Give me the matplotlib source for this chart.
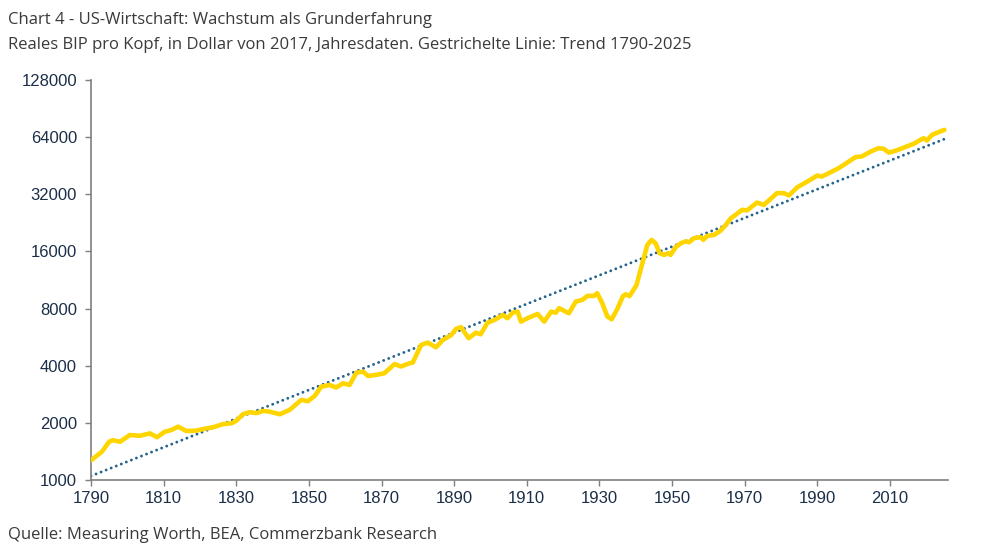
import matplotlib
matplotlib.use("Agg")
import matplotlib.pyplot as plt
from matplotlib.ticker import FixedLocator, NullLocator
import numpy as np

years = [1790, 1793, 1795, 1796, 1798, 1800.7, 1803.5, 1806.2, 1808.2, 1810.3,
         1812.2, 1814, 1816.3, 1819, 1821.8, 1823.6, 1826.4, 1828.7, 1830, 1831.9,
         1833.7, 1835.5, 1837.4, 1839.2, 1842, 1844.7, 1847.9, 1849.7, 1851.6, 1853.4,
         1855.7, 1857.5, 1859.4, 1861.2, 1863.1, 1864.9, 1866.3, 1868.6, 1870.8, 1873.6,
         1875.4, 1877.7, 1878.6, 1880.9, 1882.7, 1885, 1886.9, 1889.2, 1890.5, 1891.9,
         1894, 1896, 1897.3, 1899.2, 1901.1, 1903.4, 1904.7, 1906.1, 1907.5, 1908.4,
         1910.2, 1913, 1914.8, 1916.7, 1918, 1918.9, 1921.6, 1923.5, 1925.3, 1926.7,
         1928.5, 1929.4, 1930.8, 1932.2, 1933.4, 1934.9, 1936.5, 1937.3, 1938.3, 1940.2,
         1941.6, 1943.2, 1944.4, 1945.5, 1946.6, 1947.8, 1949, 1949.6, 1951, 1952.4,
         1953.8, 1954.7, 1956, 1957.9, 1958.6, 1959.7, 1961.6, 1963.4, 1964.8, 1966.1,
         1967.5, 1969.3, 1970.7, 1973.4, 1975.3, 1978.9, 1980.8, 1982.2, 1984.5, 1987.3,
         1990, 1991.2, 1993.2, 1995.9, 1998.7, 2000.5, 2002.3, 2004.7, 2006.9, 2008.3,
         2009.7, 2011.5, 2014.2, 2016.5, 2019.3, 2020.2, 2021.6, 2023.4, 2025]
gdp = [1270, 1410, 1590, 1620, 1590, 1725, 1710, 1760, 1680, 1795,
       1835, 1910, 1810, 1820, 1870, 1895, 1970, 1990, 2050, 2225,
       2275, 2250, 2310, 2290, 2220, 2340, 2640, 2600, 2770, 3100,
       3165, 3070, 3230, 3165, 3675, 3720, 3530, 3580, 3650, 4080,
       3960, 4120, 4150, 5140, 5290, 5000, 5460, 5800, 6240, 6380,
       5580, 5970, 5850, 6740, 6960, 7400, 7110, 7610, 7700, 6820,
       7110, 7490, 6820, 7700, 7600, 8030, 7550, 8700, 8880, 9320,
       9320, 9630, 8530, 7250, 7020, 7930, 9300, 9500, 9300, 10600,
       13300, 17300, 18380, 17600, 15640, 15320, 15640, 15320, 16820, 17650,
       18060, 17850, 18760, 19000, 18380, 19290, 19530, 20580, 22050, 23800,
       24900, 26450, 26300, 28900, 28100, 32400, 32400, 31500, 34800, 37300,
       40100, 39600, 41300, 43860, 47550, 50100, 50600, 53650, 55900, 55500,
       53000, 54100, 56600, 58900, 63100, 61300, 65700, 67900, 69800]

trend_years = [1790, 2025]
trend_values = [1050, 62400]

y_ticks = [1000, 2000, 4000, 8000, 16000, 32000, 64000, 128000]
x_ticks = [1790, 1810, 1830, 1850, 1870, 1890, 1910, 1930, 1950, 1970, 1990, 2010]

title = "Chart 4 - US-Wirtschaft: Wachstum als Grunderfahrung"
subtitle = "Reales BIP pro Kopf, in Dollar von 2017, Jahresdaten. Gestrichelte Linie: Trend 1790-2025"
source = "Quelle: Measuring Worth, BEA, Commerzbank Research"

fig = plt.figure(figsize=(10, 5.43), dpi=100)
ax = fig.add_axes([0.091, 0.116, 0.857, 0.737])

t = np.linspace(trend_years[0], trend_years[1], 200)
tv = np.exp(np.interp(t, trend_years, np.log(trend_values)))
ax.plot(t, tv, color="#23648c", lw=2.1, linestyle=(0, (0.01, 1.85)),
        dash_capstyle="round", zorder=2)
ax.plot(years, gdp, color="#FFD500", lw=3.3, solid_joinstyle="round",
        solid_capstyle="round", zorder=3)

ax.set_yscale("log", base=2)
ax.set_ylim(1000, 128000)
ax.set_xlim(1790, 2026)
ax.yaxis.set_major_locator(FixedLocator(y_ticks))
ax.yaxis.set_minor_locator(NullLocator())
ax.set_yticklabels([str(v) for v in y_ticks])
ax.set_xticks(x_ticks)
ax.set_xticklabels([str(v) for v in x_ticks])

for s in ["top", "right"]:
    ax.spines[s].set_visible(False)
for s in ["left", "bottom"]:
    ax.spines[s].set_color("#7f7f7f")
    ax.spines[s].set_linewidth(1.2)
ax.tick_params(axis="both", direction="out", length=4, width=1.0, color="#7f7f7f",
               labelsize=12, labelcolor="#1c2f48")
ax.tick_params(axis="y", pad=6)
ax.tick_params(axis="x", pad=4)
for lab in ax.get_xticklabels() + ax.get_yticklabels():
    lab.set_family(["Liberation Sans", "DejaVu Sans"])

fig.text(0.008, 0.964, title, fontsize=12, color="#3a3a3a",
         family=["Open Sans", "DejaVu Sans"], va="center", ha="left")
fig.text(0.008, 0.918, subtitle, fontsize=12, color="#3a3a3a",
         family=["Open Sans", "DejaVu Sans"], va="center", ha="left")
fig.text(0.008, 0.015, source, fontsize=12, color="#3a3a3a",
         family=["Open Sans", "DejaVu Sans"], va="center", ha="left")

fig.savefig("out.png", dpi=100, facecolor="white")
